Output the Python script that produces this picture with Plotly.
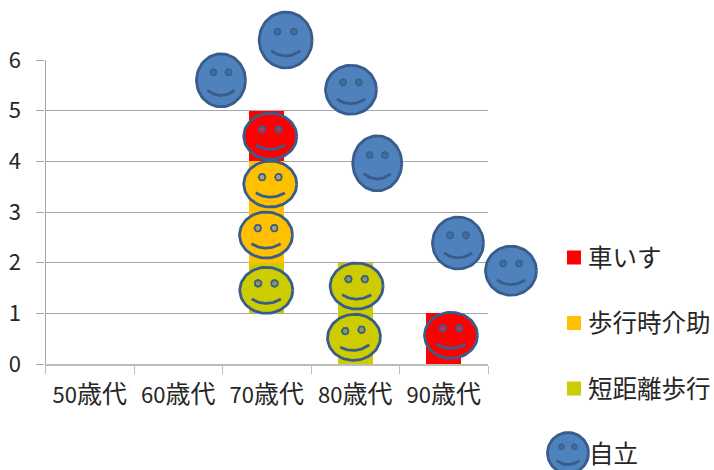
import numpy as np
import plotly.graph_objects as go

# ---- data ----
categories = ["50歳代", "60歳代", "70歳代", "80歳代", "90歳代"]
y_ticks = [0, 1, 2, 3, 4, 5, 6]
independent_offset = [0, 0, 1, 0, 0]
short_walk = [0, 0, 1, 2, 0]
assisted_walk = [0, 0, 2, 0, 0]
wheelchair = [0, 0, 1, 0, 1]

blue_cat = [2.214, 1.483, 2.952, 3.249, 4.161, 4.760]
blue_val = [6.394, 5.599, 5.413, 3.961, 2.388, 1.841]
red_cat = [2.040, 4.082]
red_val = [4.494, 0.566]
orange_cat = [2.040, 1.992]
orange_val = [3.552, 2.546]
olive_cat = [1.995, 3.016, 2.986]
olive_val = [1.455, 1.539, 0.527]
legend_labels = ["車いす", "歩行時介助", "短距離歩行", "自立"]

# ---- frame geometry (pixels in the 714x470 figure) ----
W, H = 714, 470
L, R, BASE, TOP = 45.5, 488.0, 364.0, 60.0
CAT0, CAT_STEP = (L + (R - L) / 10), (R - L) / 5
VAL_STEP = (BASE - TOP) / 6
CJK = "Noto Sans CJK JP"
TXT = "#262626"
GRID = "#a6a6a6"
OUTLINE = "#385D8A"
BLUE, RED, ORANGE, OLIVE = "#4F81BD", "#FF0000", "#FFC000", "#CCCC00"

fig = go.Figure()
for name, vals, col in [("自立", independent_offset, "rgba(0,0,0,0)"),
                        ("短距離歩行", short_walk, OLIVE),
                        ("歩行時介助", assisted_walk, ORANGE),
                        ("車いす", wheelchair, RED)]:
    fig.add_bar(x=categories, y=vals, name=name, marker=dict(color=col, line_width=0),
                width=0.4, showlegend=False, hoverinfo="skip")


def ellipse(cx, cy, rx, ry, n=72):
    t = np.linspace(0, 2 * np.pi, n)
    return cx + rx * np.cos(t), cy + ry * np.sin(t)


def add_faces(cats, vals, radii, fill, eye, tilts=None, eye_r=3.4, eye_line=1.8):
    """Each face is placed at (category, value) on the overlay axes; radii in px."""
    bx, by, ex, ey, mx, my = [], [], [], [], [], []
    tilts = tilts or [0] * len(cats)
    for c, v, (rx, ry), tilt in zip(cats, vals, radii, tilts):
        a = np.radians(tilt)

        def place(dx, dy):  # dx, dy in px, dy down
            px = dx * np.cos(a) + dy * np.sin(a)
            py = -dx * np.sin(a) + dy * np.cos(a)
            return c + px / CAT_STEP, v - py / VAL_STEP

        x, y = place(*ellipse(0, 0, rx, ry))
        bx += list(x) + [None]
        by += list(y) + [None]
        for side in (-1, 1):
            x, y = place(*ellipse(side * 0.31 * rx, -0.30 * ry, eye_r, eye_r, 24))
            ex += list(x) + [None]
            ey += list(y) + [None]
        t = np.linspace(-1, 1, 25)
        x, y = place(t * 0.55 * rx, ry * (0.38 + 0.19 * (1 - t ** 2)))
        mx += list(x) + [None]
        my += list(y) + [None]
    common = dict(xaxis="x2", yaxis="y2", showlegend=False, hoverinfo="skip", mode="lines")
    fig.add_scatter(x=bx, y=by, fill="toself", fillcolor=fill,
                    line=dict(color=OUTLINE, width=2.8), **common)
    fig.add_scatter(x=ex, y=ey, fill="toself", fillcolor=eye,
                    line=dict(color=OUTLINE, width=eye_line), **common)
    fig.add_scatter(x=mx, y=my, line=dict(color=OUTLINE, width=2.8), **common)


add_faces(blue_cat, blue_val,
          [(26.5, 28), (24.5, 26.5), (25.5, 24.5), (24.5, 27.5), (25.5, 26), (25.5, 24.5)],
          BLUE, "#416C9F", eye_r=3.4, eye_line=1.2)
add_faces(red_cat, red_val, [(26.5, 23), (26.5, 23)], RED, "#C8304A")
add_faces(orange_cat, orange_val, [(26.5, 23), (26.5, 23)], ORANGE, "#B0A070")
add_faces(olive_cat, olive_val, [(26.5, 23), (26.5, 23), (26.5, 23)], OLIVE, "#8A9A5A", tilts=[0, 0, 5])

# legend key for 自立, sits on the overlay axes
add_faces([(568 - CAT0) / CAT_STEP], [(BASE - 453) / VAL_STEP], [(20.5, 20.5)], BLUE, "#416C9F",
          eye_r=2.8, eye_line=1.2)

# hand-placed legend, as in the reference
legend_y = [257.5, 323, 388.5, 453]
text_y = [256, 321.5, 387, 452.5]
swatches = [RED, ORANGE, OLIVE]
shapes = [dict(type="rect", xref="paper", yref="paper", x0=567 / W, x1=581 / W,
               y0=1 - (ly + 7) / H, y1=1 - (ly - 7) / H,
               fillcolor=c, line_width=0) for ly, c in zip(legend_y, swatches)]
annotations = [dict(text=t, xref="paper", yref="paper",
                    x=(585.5 if i < 3 else 587) / W, y=1 - ly / H, xanchor="left", yanchor="middle",
                    showarrow=False, font=dict(family=CJK, size=24.5, color=TXT))
               for i, (t, ly) in enumerate(zip(legend_labels, text_y))]

ticktext = [c[:2] + '<span style="font-size:25px">' + c[2:] + "</span>" for c in categories]

fig.update_layout(
    width=W, height=H, autosize=False,
    margin=dict(l=0, r=0, t=0, b=0, pad=0, autoexpand=False),
    paper_bgcolor="white", plot_bgcolor="rgba(0,0,0,0)",
    barmode="stack", bargap=0.6,
    font=dict(family=CJK, color=TXT),
    shapes=shapes, annotations=annotations,
    xaxis=dict(domain=[L / W, R / W], type="category", categoryorder="array",
               categoryarray=categories, range=[-0.5, 4.5],
               tickmode="array", tickvals=categories, ticktext=ticktext,
               tickson="boundaries", ticks="outside", ticklen=8, tickwidth=1.4, tickcolor="#bdbdbd",
               showgrid=False, zeroline=False, showline=True, linecolor="#bdbdbd", linewidth=1.6,
               tickfont=dict(family=CJK, size=22, color=TXT), tickangle=0,
               ticklabelstandoff=11, fixedrange=True),
    yaxis=dict(domain=[1 - BASE / H, 1 - TOP / H], range=[0, 6],
               tickmode="array", tickvals=y_ticks, ticks="outside", ticklen=8, tickwidth=1.2,
               tickcolor=GRID, showgrid=True, gridcolor=GRID, gridwidth=1.2, zeroline=False,
               showline=True, linecolor=GRID, linewidth=1.2,
               tickfont=dict(family=CJK, size=22, color=TXT), ticklabelstandoff=11, fixedrange=True),
    xaxis2=dict(domain=[0, 1], anchor="y2", visible=False, fixedrange=True,
                range=[(0 - CAT0) / CAT_STEP, (W - CAT0) / CAT_STEP]),
    yaxis2=dict(domain=[0, 1], anchor="x2", visible=False, fixedrange=True,
                range=[(BASE - H) / VAL_STEP, BASE / VAL_STEP]),
)

fig.write_html("out.html", config=dict(displayModeBar=False),
               post_script="document.body.style.margin='0';")
